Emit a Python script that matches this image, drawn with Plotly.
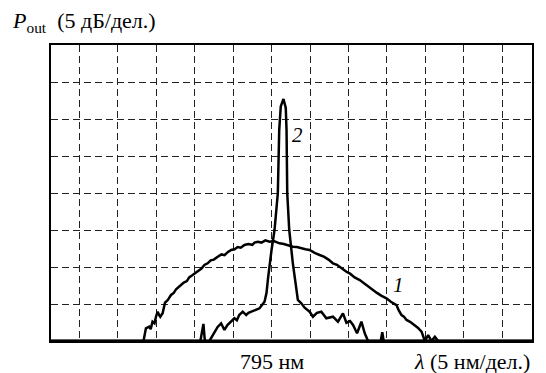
import plotly.graph_objects as go

# Curve 1 (broad spectrum): wavelength, nm / power, dB above floor
wl1 = [778.37, 778.68, 779.11, 779.3, 779.54, 779.8, 779.99, 780.2, 780.4, 780.55, 780.85, 781.16, 781.5,
       781.94, 782.3, 782.6, 783.24, 783.6, 784.0, 784.3, 784.75, 785.2, 785.5, 785.9, 786.28, 786.7, 787.1,
       787.5, 788.01, 788.5, 788.9, 789.3, 789.75, 790.2, 790.6, 791.0, 791.48, 792.0, 792.5, 792.8, 793.22,
       793.7, 794.2, 794.74, 795.3, 796.04, 796.6, 797.2, 797.77, 798.3, 798.9, 799.4, 799.95, 800.6, 801.25,
       801.8, 802.4, 802.98, 803.5, 804.1, 804.73, 805.2, 805.8, 806.46, 807.0, 807.6, 808.19, 808.7, 809.3,
       809.93, 810.5, 811.0, 811.24, 811.5, 811.89, 812.2, 812.54, 813.0, 813.62, 814.0, 814.49, 814.92,
       815.35, 815.79, 816.22, 816.65]
p1 = [0, 1.72, 1.93, 1.6, 2.61, 2.4, 3.28, 3.96, 3.5, 3.28, 3.74, 5.18, 5.5,
      6.22, 6.5, 7.0, 7.57, 7.9, 8.1, 8.6, 8.92, 9.3, 9.5, 9.8, 10.27, 10.5, 10.9,
      11.0, 11.39, 11.7, 11.6, 12.0, 12.3, 12.4, 12.7, 12.6, 12.97, 13.1, 13.0, 13.3, 13.42,
      13.3, 13.6, 13.42, 13.5, 13.2, 13.1, 12.9, 12.74, 12.7, 12.5, 12.4, 12.3, 11.9, 11.62,
      11.4, 11.0, 10.5, 10.3, 9.8, 9.36, 9.1, 8.6, 8.24, 7.8, 7.4, 6.89, 6.5, 6.1,
      5.77, 5.3, 5.0, 4.86, 4.2, 3.51, 3.3, 2.84, 2.6, 2.16, 1.8, 1.26, 0,
      0.81, 0, 0.58, 0]

# Curve 2 (narrow line)
wl2 = [766.4, 785.76, 786.15, 786.34, 786.93, 787.58, 788.0, 788.45, 788.88, 789.27, 789.7, 790.18, 790.5,
       790.8, 791.26, 791.71, 792.0, 792.36, 792.8, 793.44, 794.09, 794.35, 794.55, 794.74, 795.0, 795.39,
       795.82, 796.0, 796.2, 796.55, 796.85, 796.95, 797.04, 797.3, 797.45, 797.77, 798.1, 798.42, 798.87,
       799.3, 799.95, 800.38, 800.9, 801.47, 802.12, 802.98, 803.63, 804.28, 804.73, 805.2, 805.59, 806.11,
       806.68, 807.11, 807.54, 809.19, 809.39, 809.56, 828.8]
p2 = [0, 0, 2.3, 0, 0, 1.26, 1.9, 2.39, 1.49, 2.16, 2.6, 3.07, 2.8,
      3.5, 3.96, 3.51, 3.8, 3.96, 4.1, 4.42, 5.31, 6.5, 8.5, 10.5, 12.3, 15,
      20, 28.5, 31.7, 32.7, 31.5, 28.5, 20, 15, 13.2, 10.5, 8.0, 5.54, 5.09,
      4.5, 3.96, 3.28, 3.8, 3.96, 3.07, 3.28, 2.61, 3.74, 2.47, 2.7, 2.16, 1.04,
      2.61, 1.04, 0, 0, 1.2, 0, 0]

x_grid = [770, 775, 780, 785, 790, 795, 800, 805, 810, 815, 820, 825]
y_grid = [5, 10, 15, 20, 25, 30, 35]
x_range = [766.35, 828.84]
y_range = [0, 40]

FONT = "Liberation Serif, Times New Roman, DejaVu Serif, serif"

fig = go.Figure()
fig.add_trace(go.Scatter(x=wl1, y=p1, mode="lines", line=dict(color="black", width=2.5), showlegend=False))
fig.add_trace(go.Scatter(x=wl2, y=p2, mode="lines", line=dict(color="black", width=2.5), showlegend=False))

axis_common = dict(showgrid=True, gridcolor="#222", gridwidth=1, griddash="7px,4px",
                   showticklabels=False, ticks="", zeroline=False,
                   showline=True, linecolor="black", linewidth=2, mirror=True)
fig.update_xaxes(range=x_range, tickvals=x_grid, **axis_common)
fig.update_yaxes(range=y_range, tickvals=y_grid, **axis_common)

fig.add_shape(type="line", xref="paper", yref="paper", x0=-0.003, x1=1, y0=0, y1=0,
              line=dict(color="black", width=3))

ann = []
ann.append(dict(text="<i>P</i><sub>out</sub>  (5 дБ/дел.)", xref="paper", yref="paper",
                x=-0.085, y=1.078, xanchor="left", yanchor="middle", showarrow=False,
                font=dict(family=FONT, size=22, color="black")))
ann.append(dict(text="795 нм", xref="x", yref="paper", x=795, y=-0.068,
                xanchor="center", yanchor="middle", showarrow=False,
                font=dict(family=FONT, size=22, color="black")))
ann.append(dict(text="<i>λ</i> (5 нм/дел.)", xref="paper", yref="paper", x=0.7505, y=-0.068,
                xanchor="left", yanchor="middle", showarrow=False,
                font=dict(family=FONT, size=22, color="black")))
ann.append(dict(text="<i>2</i>", xref="x", yref="y", x=798.35, y=27.8,
                xanchor="center", yanchor="middle", showarrow=False,
                font=dict(family=FONT, size=21, color="black")))
ann.append(dict(text="<i>1</i>", xref="x", yref="y", x=811.45, y=7.57,
                xanchor="center", yanchor="middle", showarrow=False,
                font=dict(family=FONT, size=21, color="black")))

fig.update_layout(width=546, height=373, margin=dict(l=43, r=22, t=37, b=40),
                  plot_bgcolor="white", paper_bgcolor="white", annotations=ann)

fig.write_html("out.html")
